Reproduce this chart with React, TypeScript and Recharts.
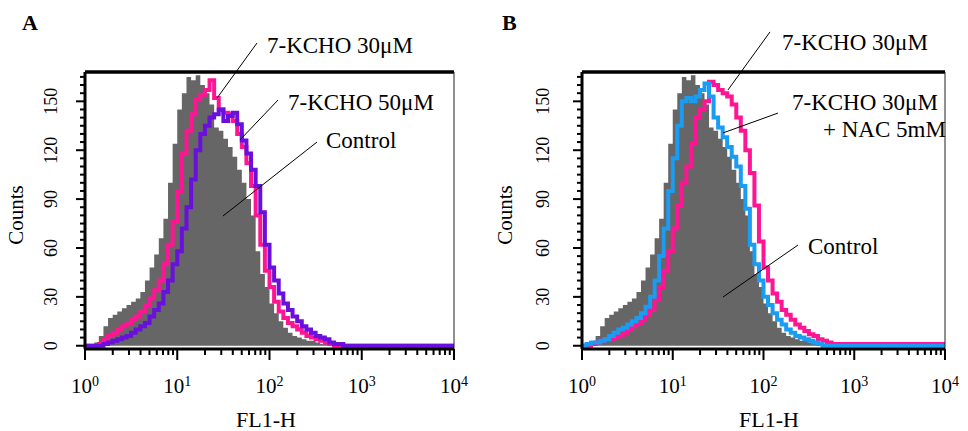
import React from 'react';
import {ComposedChart, Area, Line, XAxis, YAxis, ReferenceLine} from 'recharts';

// FL1-H channel starts (20 channels per decade), last entry closes the axis
const channelFL1 = [
  1, 1.122, 1.259, 1.413, 1.585, 1.778, 1.995, 2.239, 2.512, 2.818,
  3.162, 3.548, 3.981, 4.467, 5.012, 5.623, 6.31, 7.079, 7.943, 8.913,
  10, 11.22, 12.59, 14.13, 15.85, 17.78, 19.95, 22.39, 25.12, 28.18,
  31.62, 35.48, 39.81, 44.67, 50.12, 56.23, 63.1, 70.79, 79.43, 89.13,
  100, 112.2, 125.9, 141.3, 158.5, 177.8, 199.5, 223.9, 251.2, 281.8,
  316.2, 354.8, 398.1, 446.7, 501.2, 562.3, 631,
  10000,
];

const controlCounts = [
  0, 0, 2, 6, 12, 17, 19, 21, 23, 25,
  27, 29, 33, 40, 48, 56, 66, 78, 100, 124,
  145, 155, 165, 163, 166, 160, 155, 148, 134, 132,
  127, 122, 116, 108, 100, 90, 80, 58, 44, 36,
  26, 20, 15, 11, 8, 6, 5, 4, 3, 3,
  2, 1, 1, 0, 0, 0, 0,
  0,
];

const kcho30A = [
  0, 0, 0, 1, 4, 6, 8, 10, 12, 14,
  16, 18, 21, 25, 29, 34, 40, 50, 62, 76,
  95, 118, 132, 142, 151, 154, 157, 163, 152, 145,
  143, 142, 138, 130, 122, 112, 98, 80, 62, 46,
  36, 27, 21, 17, 14, 12, 10, 8, 6, 5,
  4, 3, 2, 1, 0, 0, 0,
  0,
];

const kcho50A = [
  0, 0, 0, 0, 1, 2, 3, 4, 5, 6,
  8, 10, 12, 14, 18, 22, 26, 33, 40, 50,
  58, 72, 85, 102, 120, 130, 135, 140, 142, 145,
  138, 141, 143, 136, 126, 118, 108, 98, 82, 62,
  48, 40, 32, 26, 22, 18, 15, 12, 10, 8,
  6, 5, 4, 2, 1, 1, 0,
  0,
];

const kcho30B = [
  0, 0, 1, 2, 3, 4, 4, 5, 6, 8,
  10, 12, 14, 16, 19, 22, 28, 36, 46, 58,
  72, 86, 100, 110, 124, 140, 145, 150, 162, 160,
  157, 155, 153, 148, 140, 132, 120, 106, 86, 64,
  48, 40, 32, 27, 22, 19, 16, 13, 11, 9,
  7, 6, 4, 3, 2, 1, 1,
  0,
];

const kcho30NacB = [
  0, 1, 2, 2, 3, 4, 6, 8, 10, 11,
  13, 15, 17, 20, 24, 30, 40, 55, 72, 95,
  115, 135, 150, 152, 150, 153, 157, 161, 153, 140,
  134, 128, 122, 116, 110, 98, 84, 62, 50, 40,
  30, 25, 20, 16, 13, 10, 8, 6, 5, 4,
  3, 2, 1, 0, 0, 0, 0,
  0,
];

const xMajor = [1, 10, 100, 1000, 10000];
const xMinorSteps = [2, 3, 4, 5, 6, 7, 8, 9];
const yMajor = [0, 30, 60, 90, 120, 150];
const yMinorStep = 5;
const yTop = 168;

// leader lines for the labels, in data units (FL1-H, counts)
const leadersA = [
  [{x: 73.2, y: 185.8}, {x: 27.0, y: 152.0}],
  [{x: 123.7, y: 150.8}, {x: 47.9, y: 126.3}],
  [{x: 327, y: 125.0}, {x: 31.3, y: 79.6}],
];
const leadersB = [
  [{x: 118, y: 192.6}, {x: 40.6, y: 157.0}],
  [{x: 144.5, y: 142.8}, {x: 35.8, y: 130.6}],
  [{x: 240, y: 61.8}, {x: 35.8, y: 29.9}],
];

const FONT = 'Liberation Serif, Times New Roman, serif';
const PINK = '#ff1493';
const PURPLE = '#6a10dc';
const BLUE = '#1a9cf2';
const GRAY = '#666666';

const xTicks = [
  ...xMajor,
  ...xMajor.slice(0, -1).flatMap(d => xMinorSteps.map(m => d * m)),
].sort((a, b) => a - b);
const yTicks = Array.from({length: Math.floor(165 / yMinorStep) + 1}, (_, i) => i * yMinorStep);

const serif = {fontFamily: FONT};

const XTick = ({x, y, payload}: any) => {
  const v = payload.value;
  const major = xMajor.includes(v);
  return (
    <g>
      <line x1={x} x2={x} y1={y} y2={y + (major ? 11 : 6)} stroke="#000" strokeWidth={2} />
      {major && (
        <text x={x} y={y + 44} textAnchor="middle" fontSize={21} style={serif} fill="#000">
          10<tspan dy={-7} fontSize={14}>{Math.round(Math.log10(v))}</tspan>
        </text>
      )}
    </g>
  );
};

const YTick = ({x, y, payload, gap}: any) => {
  const v = payload.value;
  const major = yMajor.includes(v);
  const lx = x - gap;
  return (
    <g>
      <line x1={x - (major ? 9 : 5)} x2={x} y1={y} y2={y} stroke="#000" strokeWidth={2} />
      {major && (
        <text x={lx} y={y} transform={`rotate(-90 ${lx} ${y})`} textAnchor="middle"
          fontSize={18} style={serif} fill="#000">
          {v}
        </text>
      )}
    </g>
  );
};

interface ISeries {
  key: string;
  color: string;
}

interface IPanelProps {
  left: number;
  width: number;
  marginLeft: number;
  marginRight: number;
  rows: any[];
  lines: ISeries[];
  leaders: {x: number; y: number}[][];
  labelGap: number;
}

const Panel = ({left, width, marginLeft, marginRight, rows, lines, leaders, labelGap}: IPanelProps) => (
  <div style={{position: 'absolute', left, top: 0}}>
    <ComposedChart width={width} height={431} data={rows}
      margin={{top: 72, right: marginRight, bottom: 22, left: marginLeft}}>
      <XAxis dataKey="fl" type="number" scale="log" domain={[1, 10000]} allowDataOverflow
        ticks={xTicks} interval={0} tick={<XTick />} tickLine={false} tickSize={0} tickMargin={0}
        height={60} axisLine={{stroke: '#000', strokeWidth: 3}} />
      <YAxis type="number" domain={[-2, yTop]} allowDataOverflow ticks={yTicks} interval={0}
        tick={<YTick gap={labelGap} />} tickLine={false} tickSize={0} tickMargin={0}
        width={60} axisLine={{stroke: '#000', strokeWidth: 3}} />
      <Area dataKey="control" type="stepAfter" fill={GRAY} fillOpacity={1} stroke="none"
        baseValue={0} isAnimationActive={false} />
      {lines.map(l => (
        <Line key={l.key} dataKey={l.key} type="stepAfter" stroke={l.color} strokeWidth={4}
          dot={false} activeDot={false} isAnimationActive={false} />
      ))}
      <ReferenceLine y={yTop} stroke="#000" strokeWidth={3.5} />
      <ReferenceLine x={10000} stroke="#222" strokeWidth={1} />
      {leaders.map((seg, i) => (
        <ReferenceLine key={i} segment={seg} stroke="#000" strokeWidth={1} ifOverflow="visible" />
      ))}
    </ComposedChart>
  </div>
);

const rowsA = channelFL1.map((fl, i) => ({fl, control: controlCounts[i], k30: kcho30A[i], k50: kcho50A[i]}));
const rowsB = channelFL1.map((fl, i) => ({fl, control: controlCounts[i], k30: kcho30B[i], nac: kcho30NacB[i]}));

const txt = {style: serif, fill: '#000'};

const App = () => (
  <div style={{position: 'absolute', left: 0, top: 0, width: 968, height: 431, background: '#fff', overflow: 'hidden', fontFamily: FONT}}>
    <Panel left={0} width={480} marginLeft={25} marginRight={26} rows={rowsA} labelGap={28}
      lines={[{key: 'k30', color: PINK}, {key: 'k50', color: PURPLE}]} leaders={leadersA} />
    <Panel left={480} width={488} marginLeft={42} marginRight={23} rows={rowsB} labelGap={33}
      lines={[{key: 'k30', color: PINK}, {key: 'nac', color: BLUE}]} leaders={leadersB} />
    <svg width={968} height={431} style={{position: 'absolute', left: 0, top: 0, pointerEvents: 'none'}}>
      <text x={22} y={30} fontSize={22} fontWeight="bold" {...txt}>A</text>
      <text x={502} y={30} fontSize={22} fontWeight="bold" {...txt}>B</text>

      <text x={267} y={53} fontSize={23} {...txt}>7-KCHO 30μM</text>
      <text x={288} y={110} fontSize={23} {...txt}>7-KCHO 50μM</text>
      <text x={326} y={148} fontSize={23} {...txt}>Control</text>

      <text x={782} y={50} fontSize={23} {...txt}>7-KCHO 30μM</text>
      <text x={792} y={110} fontSize={23} {...txt}>7-KCHO 30μM</text>
      <text x={823} y={137} fontSize={23} {...txt}>+ NAC 5mM</text>
      <text x={808} y={254} fontSize={23} {...txt}>Control</text>

      <text x={23} y={215} transform="rotate(-90 23 215)" textAnchor="middle" fontSize={21} {...txt}>Counts</text>
      <text x={512} y={215} transform="rotate(-90 512 215)" textAnchor="middle" fontSize={21} {...txt}>Counts</text>
      <text x={266} y={427} textAnchor="middle" fontSize={22} {...txt}>FL1-H</text>
      <text x={769} y={427} textAnchor="middle" fontSize={22} {...txt}>FL1-H</text>
    </svg>
  </div>
);

export default App;
